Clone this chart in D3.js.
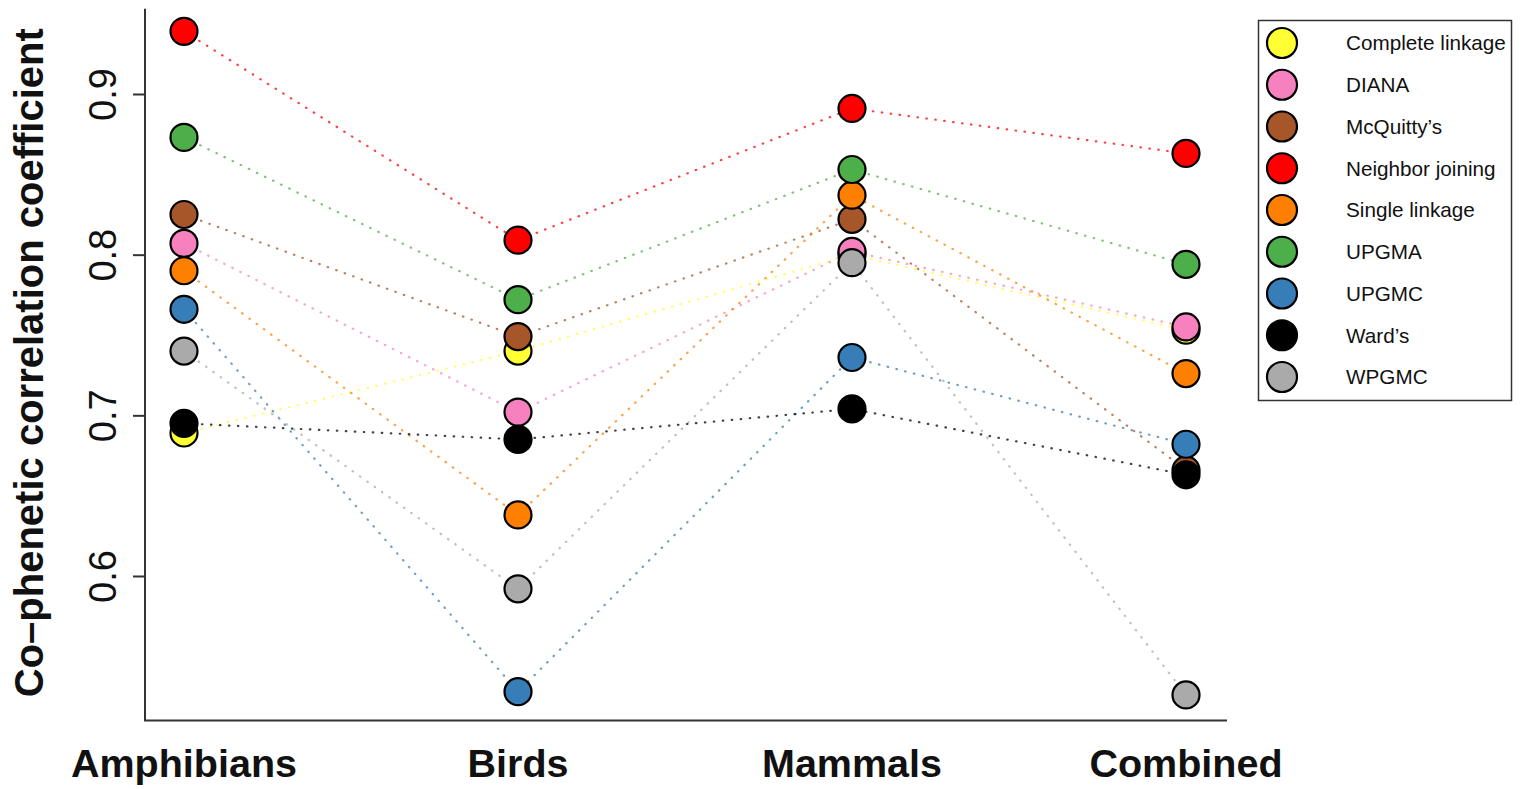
<!DOCTYPE html>
<html>
<head>
<meta charset="utf-8">
<script src="https://cdn.jsdelivr.net/npm/d3@7"></script>
<style>
  body { margin: 0; background: #fff; }
  svg { font-family: "Liberation Sans", Arial, Helvetica, sans-serif; }
</style>
</head>
<body>
<div id="output"></div>
<script>
// values
const categories = ["Amphibians", "Birds", "Mammals", "Combined"];
const methods = ["Complete linkage", "DIANA", "McQuitty\u2019s", "Neighbor joining",
  "Single linkage", "UPGMA", "UPGMC", "Ward\u2019s", "WPGMC"];
const colors = ["#FFFF33", "#F781BF", "#A65628", "#FF0000", "#FF7F00",
  "#4DAF4A", "#377EB8", "#000000", "#AAAAAA"];

const completeLinkage = [0.689, 0.740, 0.800, 0.753];
const diana           = [0.807, 0.702, 0.802, 0.755];
const mcquitty        = [0.825, 0.749, 0.822, 0.666];
const neighborJoining = [0.939, 0.809, 0.891, 0.863];
const singleLinkage   = [0.790, 0.638, 0.837, 0.726];
const upgma           = [0.873, 0.772, 0.853, 0.794];
const upgmc           = [0.766, 0.528, 0.736, 0.682];
const wards           = [0.695, 0.685, 0.704, 0.663];
const wpgmc           = [0.740, 0.592, 0.795, 0.526];

const seriesValues = [completeLinkage, diana, mcquitty, neighborJoining,
  singleLinkage, upgma, upgmc, wards, wpgmc];
const yTicks = [0.6, 0.7, 0.8, 0.9];

const width = 1526, height = 789;

const x = d3.scalePoint().domain(categories).range([184, 1186]);
const y = d3.scaleLinear().domain([0.6, 0.9]).range([576, 94]);

const svg = d3.create("svg")
    .attr("width", width)
    .attr("height", height);

// L-shaped frame
svg.append("path")
    .attr("fill", "none")
    .attr("stroke", "#333")
    .attr("stroke-width", 2)
    .attr("d", `M145,${y(0.953)}V${y(0.51)}H1227`);

// y axis
const yAxis = svg.append("g")
    .attr("transform", "translate(145,0)")
    .call(d3.axisLeft(y).tickValues(yTicks).tickSize(12).tickFormat(d3.format(".1f")));
yAxis.select(".domain").remove();
yAxis.selectAll(".tick line").attr("stroke", "#333").attr("stroke-width", 2);
yAxis.selectAll(".tick text")
    .attr("transform", "rotate(-90)")
    .attr("x", 0)
    .attr("y", -29)
    .attr("dy", 0)
    .attr("text-anchor", "middle")
    .attr("fill", "#111")
    .style("font-size", "38px")
    .style("font-family", "\"Liberation Sans\", Arial, sans-serif");

svg.append("text")
    .attr("transform", `translate(43,${(y(0.953) + y(0.51)) / 2 - 2}) rotate(-90)`)
    .attr("text-anchor", "middle")
    .attr("font-weight", "bold")
    .attr("font-size", 40)
    .attr("fill", "#111")
    .text("Co\u2013phenetic correlation coefficient");

// category labels
svg.append("g").selectAll("text")
    .data(categories)
    .join("text")
    .attr("x", d => x(d))
    .attr("y", 777)
    .attr("text-anchor", "middle")
    .attr("font-weight", "bold")
    .attr("font-size", 39.5)
    .attr("fill", "#111")
    .text(d => d);

const series = methods.map((m, i) => ({name: m, color: colors[i],
  values: seriesValues[i].map((v, j) => ({cat: categories[j], v}))}));

const line = d3.line().x(d => x(d.cat)).y(d => y(d.v));

// dotted connecting lines
svg.append("g")
    .attr("fill", "none")
    .attr("stroke-width", 2.2)
    .attr("stroke-linecap", "round")
    .selectAll("path")
    .data(series)
    .join("path")
    .attr("stroke", d => d.color)
    .attr("stroke-dasharray", "0.5 8.5")
    .attr("opacity", 0.75)
    .attr("d", d => line(d.values));

// points, later series on top
const pts = svg.append("g");
series.forEach(s => {
  pts.append("g").selectAll("circle")
      .data(s.values)
      .join("circle")
      .attr("cx", d => x(d.cat))
      .attr("cy", d => y(d.v))
      .attr("r", 13.5)
      .attr("fill", s.color)
      .attr("stroke", "#000")
      .attr("stroke-width", 2.2);
});

// legend
const legend = svg.append("g");
legend.append("rect")
    .attr("x", 1258.5).attr("y", 20.5)
    .attr("width", 253).attr("height", 380)
    .attr("fill", "#fff")
    .attr("stroke", "#333")
    .attr("stroke-width", 1.5);

const ly = d3.scalePoint().domain(methods).range([43, 377]);
const item = legend.selectAll("g.item")
    .data(series)
    .join("g")
    .attr("class", "item")
    .attr("transform", d => `translate(0,${ly(d.name)})`);
item.append("circle")
    .attr("cx", 1282)
    .attr("r", 15)
    .attr("fill", d => d.color)
    .attr("stroke", "#000")
    .attr("stroke-width", 2.2);
item.append("text")
    .attr("x", 1346)
    .attr("dy", "0.35em")
    .attr("font-size", 20.7)
    .attr("fill", "#111")
    .text(d => d.name);

document.getElementById("output").append(svg.node());
</script>
</body>
</html>
